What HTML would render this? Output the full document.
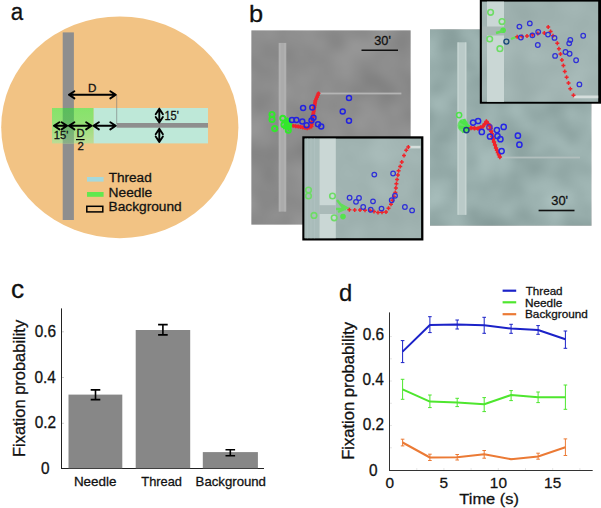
<!DOCTYPE html>
<html><head><meta charset="utf-8"><style>
html,body{margin:0;padding:0;background:#fff;width:601px;height:508px;overflow:hidden}
svg{display:block;font-family:"Liberation Sans", sans-serif}
text{stroke:#111;stroke-width:0.28px;paint-order:stroke}
</style></head><body>
<svg width="601" height="508" viewBox="0 0 601 508" font-family='"Liberation Sans", sans-serif'>
<text transform="translate(10.85,19.85) scale(0.9161,1)" font-size="24.44" fill="#111">a</text>
<ellipse cx="119.8" cy="127.3" rx="118.6" ry="110.9" fill="#F2C384"/>
<defs><linearGradient id="gG" x1="0" y1="0" x2="0" y2="1"><stop offset="0" stop-color="#86E36A"/><stop offset="0.35" stop-color="#8FE172"/><stop offset="1" stop-color="#BCDC96"/></linearGradient><linearGradient id="gO" x1="0" y1="0" x2="0" y2="1"><stop offset="0" stop-color="#5ABD5C"/><stop offset="0.35" stop-color="#62BA62"/><stop offset="1" stop-color="#8CAF88"/></linearGradient></defs>
<rect x="62.7" y="32.4" width="11.2" height="187.6" fill="#8E8E8E"/>
<rect x="52" y="108" width="41.7" height="35.4" fill="url(#gG)"/>
<rect x="62.7" y="108" width="11.2" height="35.4" fill="url(#gO)"/>
<rect x="93.7" y="108" width="114.3" height="35.4" fill="#BEE8D8"/>
<rect x="116.7" y="123" width="91.3" height="4.7" fill="#8E8E8E"/>
<line x1="116.7" y1="95" x2="116.7" y2="124" stroke="#777" stroke-width="0.6"/>
<path d="M68.9,94.8 L115.8,94.8 M74.4,91.2 L68.9,94.8 L74.4,98.39999999999999 M110.3,91.2 L115.8,94.8 L110.3,98.39999999999999" stroke="#000" stroke-width="1.9" fill="none" stroke-linecap="round" stroke-linejoin="round"/>
<text transform="translate(87.94,91.80) scale(1.0145,1)" font-size="11.48" fill="#111">D</text>
<path d="M53.9,125.8 L67.1,125.8 M59.4,122.2 L53.9,125.8 L59.4,129.4 M61.599999999999994,122.2 L67.1,125.8 L61.599999999999994,129.4" stroke="#000" stroke-width="1.9" fill="none" stroke-linecap="round" stroke-linejoin="round"/>
<path d="M68.9,125.8 L91.6,125.8 M74.4,122.2 L68.9,125.8 L74.4,129.4 M86.1,122.2 L91.6,125.8 L86.1,129.4" stroke="#000" stroke-width="1.9" fill="none" stroke-linecap="round" stroke-linejoin="round"/>
<path d="M93.4,125.8 L115.8,125.8 M98.9,122.2 L93.4,125.8 L98.9,129.4 M110.3,122.2 L115.8,125.8 L110.3,129.4" stroke="#000" stroke-width="1.9" fill="none" stroke-linecap="round" stroke-linejoin="round"/>
<text transform="translate(53.85,139.00) scale(1.0023,1)" font-size="11.19" fill="#111">15'</text>
<text transform="translate(76.49,137.30) scale(1.0502,1)" font-size="10.61" fill="#111">D</text>
<line x1="76" y1="139.6" x2="84.6" y2="139.6" stroke="#000" stroke-width="1.2"/>
<text transform="translate(77.53,149.90) scale(1.0089,1)" font-size="11.31" fill="#111">2</text>
<path d="M159.3,108.7 L159.3,122.5 M155.70000000000002,114.2 L159.3,108.7 L162.9,114.2 M155.70000000000002,117.0 L159.3,122.5 L162.9,117.0" stroke="#000" stroke-width="1.9" fill="none" stroke-linecap="round" stroke-linejoin="round"/>
<path d="M159.3,128.7 L159.3,142.1 M155.70000000000002,134.2 L159.3,128.7 L162.9,134.2 M155.70000000000002,136.6 L159.3,142.1 L162.9,136.6" stroke="#000" stroke-width="1.9" fill="none" stroke-linecap="round" stroke-linejoin="round"/>
<text transform="translate(164.41,119.75) scale(0.9213,1)" font-size="11.99" fill="#111">15'</text>
<rect x="87" y="177" width="16.6" height="4.6" fill="#A6D9DC"/>
<rect x="87" y="192" width="16.6" height="4.8" fill="#62E84E"/>
<rect x="86.8" y="206.3" width="16" height="5.6" fill="none" stroke="#000" stroke-width="1.5"/>
<text transform="translate(108.69,182.00) scale(1.0594,1)" font-size="12.83" fill="#111">Thread</text>
<text transform="translate(108.57,197.00) scale(1.0288,1)" font-size="13.39" fill="#111">Needle</text>
<text transform="translate(108.57,211.30) scale(1.0688,1)" font-size="12.83" fill="#111">Background</text>
<text transform="translate(248.97,22.45) scale(1.0526,1)" font-size="24.08" fill="#111">b</text>
<defs><filter id="bl" x="-50%" y="-50%" width="200%" height="200%"><feGaussianBlur stdDeviation="0.75"/></filter><filter id="bl2" x="-50%" y="-50%" width="200%" height="200%"><feGaussianBlur stdDeviation="0.4"/></filter><filter id="t1" x="0" y="0" width="1" height="1" color-interpolation-filters="sRGB"><feTurbulence type="fractalNoise" baseFrequency="0.028" numOctaves="2" seed="3" result="n"/><feColorMatrix in="n" type="matrix" values="1 0 0 0 0  1 0 0 0 0  1 0 0 0 0  0 0 0 0 1" result="g"/><feComposite in="SourceGraphic" in2="g" operator="arithmetic" k1="0" k2="1" k3="0.13" k4="-0.065"/></filter><filter id="t2" x="0" y="0" width="1" height="1" color-interpolation-filters="sRGB"><feTurbulence type="fractalNoise" baseFrequency="0.028" numOctaves="2" seed="7" result="n"/><feColorMatrix in="n" type="matrix" values="1 0 0 0 0  1 0 0 0 0  1 0 0 0 0  0 0 0 0 1" result="g"/><feComposite in="SourceGraphic" in2="g" operator="arithmetic" k1="0" k2="1" k3="0.2" k4="-0.1"/></filter><filter id="t3" x="0" y="0" width="1" height="1" color-interpolation-filters="sRGB"><feTurbulence type="fractalNoise" baseFrequency="0.03" numOctaves="2" seed="11" result="n"/><feColorMatrix in="n" type="matrix" values="1 0 0 0 0  1 0 0 0 0  1 0 0 0 0  0 0 0 0 1" result="g"/><feComposite in="SourceGraphic" in2="g" operator="arithmetic" k1="0" k2="1" k3="0.08" k4="-0.04"/></filter><filter id="t4" x="0" y="0" width="1" height="1" color-interpolation-filters="sRGB"><feTurbulence type="fractalNoise" baseFrequency="0.03" numOctaves="2" seed="19" result="n"/><feColorMatrix in="n" type="matrix" values="1 0 0 0 0  1 0 0 0 0  1 0 0 0 0  0 0 0 0 1" result="g"/><feComposite in="SourceGraphic" in2="g" operator="arithmetic" k1="0" k2="1" k3="0.08" k4="-0.04"/></filter></defs>
<rect x="251.5" y="30.5" width="159" height="194" fill="#8D8D8D" filter="url(#t1)"/>
<rect x="278.6" y="42.9" width="7.7" height="168.7" fill="#ABABAB"/><rect x="279.3" y="43" width="1.2" height="168.5" fill="#B4B4B4"/><rect x="284.4" y="43" width="1.2" height="168.5" fill="#B4B4B4"/>
<rect x="320" y="92.6" width="81.4" height="1.8" fill="#B5B5B5"/>
<rect x="361.5" y="49.5" width="36.5" height="1.5" fill="#111"/>
<text transform="translate(374.26,45.40) scale(0.9736,1)" font-size="13.10" fill="#111">30'</text>
<rect x="430" y="29.5" width="161.3" height="196" fill="#97ADAB" filter="url(#t2)"/>
<rect x="457.3" y="42.3" width="9.2" height="172.6" fill="#BACAC8"/><rect x="457.6" y="42.5" width="1.3" height="172.2" fill="#C6D4D2"/><rect x="464.9" y="42.5" width="1.3" height="172.2" fill="#C6D4D2"/>
<rect x="502.7" y="156.6" width="77.3" height="1.8" fill="#B2BFBD"/>
<rect x="538.6" y="209.7" width="35.9" height="1.6" fill="#111"/>
<text transform="translate(551.21,204.80) scale(0.9703,1)" font-size="13.32" fill="#111">30'</text>
<rect x="302.3" y="136.3" width="121.1" height="104.2" fill="#000"/>
<rect x="304.6" y="138.6" width="116.5" height="99.6" fill="#A0B3B1" filter="url(#t3)"/>
<rect x="319.3" y="138.6" width="16.5" height="99.6" fill="#CAD7D5"/>
<rect x="304.6" y="138.6" width="14.7" height="99.6" fill="#A9BCBA"/><path d="M307.5,138.6v99.6M311,138.6v99.6M314.5,138.6v99.6" stroke="#B0C2C0" stroke-width="0.8"/>
<rect x="319.3" y="205.2" width="16.5" height="8.8" fill="#AABAB8"/>
<rect x="409.9" y="145.8" width="10.5" height="2.6" fill="#D5DEDC"/>
<rect x="479.8" y="0" width="121.2" height="103.7" fill="#000"/>
<rect x="481.9" y="1.6" width="116.3" height="100.2" fill="#A0B3B1" filter="url(#t4)"/>
<rect x="487" y="1.6" width="17" height="100.2" fill="#CAD7D5"/>
<rect x="482.2" y="26.5" width="21.8" height="9" fill="#A9B8B6"/>
<rect x="573.6" y="95.5" width="24.6" height="2.8" fill="#D5DEDC"/>
<g filter="url(#bl2)">
<polyline points="293.1,125.8 300.7,126.9 307.2,128.3 311.5,126.4 313.1,115 315.3,101 318.5,93.4" fill="none" stroke="#F0242A" stroke-width="3.0" stroke-linejoin="round" stroke-linecap="round"/><path d="M291.1,125.8h4.0M293.1,123.8v4.0M293.6,126.2h4.0M295.6,124.2v4.0M296.2,126.5h4.0M298.2,124.5v4.0M298.7,126.9h4.0M300.7,124.9v4.0M300.9,127.4h4.0M302.9,125.4v4.0M303.0,127.8h4.0M305.0,125.8v4.0M305.2,128.3h4.0M307.2,126.3v4.0M307.4,127.4h4.0M309.4,125.4v4.0M309.5,126.4h4.0M311.5,124.4v4.0M309.8,124.1h4.0M311.8,122.1v4.0M310.1,121.8h4.0M312.1,119.8v4.0M310.5,119.6h4.0M312.5,117.6v4.0M310.8,117.3h4.0M312.8,115.3v4.0M311.1,115.0h4.0M313.1,113.0v4.0M311.4,113.0h4.0M313.4,111.0v4.0M311.7,111.0h4.0M313.7,109.0v4.0M312.0,109.0h4.0M314.0,107.0v4.0M312.4,107.0h4.0M314.4,105.0v4.0M312.7,105.0h4.0M314.7,103.0v4.0M313.0,103.0h4.0M315.0,101.0v4.0M313.3,101.0h4.0M315.3,99.0v4.0M314.1,99.1h4.0M316.1,97.1v4.0M314.9,97.2h4.0M316.9,95.2v4.0M315.7,95.3h4.0M317.7,93.3v4.0M316.5,93.4h4.0M318.5,91.4v4.0" stroke="#F0242A" stroke-width="1.4" fill="none"/>
<circle cx="272" cy="114.5" r="2.6" fill="none" stroke="#30E82C" stroke-width="1.9"/>
<circle cx="272" cy="119.4" r="2.6" fill="none" stroke="#30E82C" stroke-width="1.9"/>
<circle cx="274.7" cy="128.6" r="2.6" fill="none" stroke="#30E82C" stroke-width="1.9"/>
<circle cx="282.8" cy="118.3" r="2.6" fill="none" stroke="#30E82C" stroke-width="1.9"/>
<circle cx="284" cy="124.8" r="2.6" fill="none" stroke="#30E82C" stroke-width="1.9"/>
<circle cx="287.7" cy="121.5" r="2.6" fill="none" stroke="#30E82C" stroke-width="1.9"/>
<circle cx="288.3" cy="130.2" r="2.6" fill="none" stroke="#30E82C" stroke-width="1.9"/>
<path d="M282,121 L292,125 M283,128 L292,126 M286,118 L291,124 M284,124 L290,130" stroke="#30E82C" stroke-width="3.2"/>
<circle cx="349" cy="98" r="2.5" fill="none" stroke="#2323E0" stroke-width="1.5"/>
<circle cx="303.1" cy="108" r="2.5" fill="none" stroke="#2323E0" stroke-width="1.5"/>
<circle cx="312.3" cy="107.5" r="2.5" fill="none" stroke="#2323E0" stroke-width="1.5"/>
<circle cx="342.7" cy="111.6" r="2.5" fill="none" stroke="#2323E0" stroke-width="1.5"/>
<circle cx="349" cy="120.8" r="2.5" fill="none" stroke="#2323E0" stroke-width="1.5"/>
<circle cx="292" cy="119.9" r="2.5" fill="none" stroke="#2323E0" stroke-width="1.5"/>
<circle cx="296.4" cy="119.9" r="2.5" fill="none" stroke="#2323E0" stroke-width="1.5"/>
<circle cx="302.3" cy="121.5" r="2.5" fill="none" stroke="#2323E0" stroke-width="1.5"/>
<circle cx="313.5" cy="117.7" r="2.5" fill="none" stroke="#2323E0" stroke-width="1.5"/>
<circle cx="311.5" cy="120.4" r="2.5" fill="none" stroke="#2323E0" stroke-width="1.5"/>
<circle cx="306.6" cy="125.3" r="2.5" fill="none" stroke="#2323E0" stroke-width="1.5"/>
<circle cx="318" cy="124.2" r="2.5" fill="none" stroke="#2323E0" stroke-width="1.5"/>
<circle cx="321.2" cy="126.4" r="2.5" fill="none" stroke="#2323E0" stroke-width="1.5"/>
</g>
<g filter="url(#bl2)">
<circle cx="459.1" cy="115.1" r="2.6" fill="none" stroke="#4EE34A" stroke-width="1.5"/>
<ellipse cx="463" cy="125.5" rx="5.5" ry="6.5" fill="#4EE34A" opacity="0.75" filter="url(#bl)"/>
<path d="M460,121 L470,127 M459,127 L470,128 M462,132 L470,129 M464,119 L468,130" stroke="#4EE34A" stroke-width="2.8"/>
<polyline points="471,128 478,128.5 483,126.5 486.4,121.5 490,126 493,139 496,148 499.8,157" fill="none" stroke="#F0242A" stroke-width="3.0" stroke-linejoin="round" stroke-linecap="round"/><path d="M468.8,128.0h4.4M471.0,125.8v4.4M472.3,128.2h4.4M474.5,126.0v4.4M475.8,128.5h4.4M478.0,126.3v4.4M478.3,127.5h4.4M480.5,125.3v4.4M480.8,126.5h4.4M483.0,124.3v4.4M482.5,124.0h4.4M484.7,121.8v4.4M484.2,121.5h4.4M486.4,119.3v4.4M486.0,123.8h4.4M488.2,121.5v4.4M487.8,126.0h4.4M490.0,123.8v4.4M488.4,128.6h4.4M490.6,126.4v4.4M489.0,131.2h4.4M491.2,129.0v4.4M489.6,133.8h4.4M491.8,131.6v4.4M490.2,136.4h4.4M492.4,134.2v4.4M490.8,139.0h4.4M493.0,136.8v4.4M491.8,142.0h4.4M494.0,139.8v4.4M492.8,145.0h4.4M495.0,142.8v4.4M493.8,148.0h4.4M496.0,145.8v4.4M494.8,150.2h4.4M496.9,148.1v4.4M495.7,152.5h4.4M497.9,150.3v4.4M496.7,154.8h4.4M498.9,152.6v4.4M497.6,157.0h4.4M499.8,154.8v4.4" stroke="#F0242A" stroke-width="1.5" fill="none"/>
<circle cx="473.1" cy="122.6" r="2.6" fill="none" stroke="#2626E6" stroke-width="1.5"/>
<circle cx="478.1" cy="121" r="2.6" fill="none" stroke="#2626E6" stroke-width="1.5"/>
<circle cx="466.4" cy="130.1" r="2.6" fill="none" stroke="#1A3A8A" stroke-width="1.5"/>
<circle cx="481.8" cy="131.9" r="2.6" fill="none" stroke="#2626E6" stroke-width="1.5"/>
<circle cx="490" cy="136.5" r="2.6" fill="none" stroke="#2626E6" stroke-width="1.5"/>
<circle cx="489.4" cy="127.2" r="2.6" fill="none" stroke="#6A2AAA" stroke-width="1.5"/>
<circle cx="496.9" cy="130.1" r="2.6" fill="none" stroke="#2626E6" stroke-width="1.5"/>
<circle cx="503.7" cy="126.9" r="2.6" fill="none" stroke="#2626E6" stroke-width="1.5"/>
<circle cx="500.4" cy="139.2" r="2.6" fill="none" stroke="#2626E6" stroke-width="1.5"/>
<circle cx="497.5" cy="136" r="2.6" fill="none" stroke="#2626E6" stroke-width="1.5"/>
<circle cx="501.6" cy="151.1" r="2.6" fill="none" stroke="#2626E6" stroke-width="1.5"/>
<circle cx="517.9" cy="135.7" r="2.6" fill="none" stroke="#2626E6" stroke-width="1.5"/>
<circle cx="519.4" cy="144.7" r="2.6" fill="none" stroke="#2626E6" stroke-width="1.5"/>
</g>
<g filter="url(#bl)" opacity="1">
<circle cx="308.5" cy="190" r="2.8" fill="none" stroke="#6EDC66" stroke-width="1.6"/>
<circle cx="308.5" cy="196" r="2.8" fill="none" stroke="#6EDC66" stroke-width="1.6"/>
<circle cx="332.5" cy="196" r="2.8" fill="none" stroke="#6EDC66" stroke-width="1.6"/>
<circle cx="314" cy="215.4" r="2.8" fill="none" stroke="#6EDC66" stroke-width="1.6"/>
<circle cx="334.2" cy="217.8" r="2.8" fill="none" stroke="#6EDC66" stroke-width="1.6"/>
<circle cx="343" cy="216.6" r="2.8" fill="#55E24E"/>
<path d="M337,200 L344,209 M340,204 L349,209 M338,212 L345,209 M336,209 L346,209" stroke="#62DE58" stroke-width="2.4"/>
</g>
<path d="M347.4,209.8h4.0M349.4,207.8v4.0M352.7,209.9h4.0M354.7,207.9v4.0M358.0,210.0h4.0M360.0,208.0v4.0M363.0,210.2h4.0M365.0,208.2v4.0M368.0,210.5h4.0M370.0,208.5v4.0M372.0,211.5h4.0M374.0,209.5v4.0M376.0,212.5h4.0M378.0,210.5v4.0M380.0,212.2h4.0M382.0,210.2v4.0M384.0,212.0h4.0M386.0,210.0v4.0M386.5,208.2h4.0M388.5,206.2v4.0M389.0,204.3h4.0M391.0,202.3v4.0M390.4,200.3h4.0M392.4,198.3v4.0M391.9,196.4h4.0M393.9,194.4v4.0M393.3,192.4h4.0M395.3,190.4v4.0M393.9,188.1h4.0M395.9,186.1v4.0M394.4,183.8h4.0M396.4,181.8v4.0M395.1,179.5h4.0M397.1,177.5v4.0M395.9,175.1h4.0M397.9,173.1v4.0M396.6,170.8h4.0M398.6,168.8v4.0M398.2,166.4h4.0M400.2,164.4v4.0M399.8,162.0h4.0M401.8,160.0v4.0M402.0,155.6h4.0M404.0,153.6v4.0M404.2,150.2h4.0M406.2,148.2v4.0M406.3,147.0h4.0M408.3,145.0v4.0" stroke="#F0242A" stroke-width="1.5" fill="none"/>
<circle cx="374.3" cy="174.6" r="2.3" fill="none" stroke="#2F2FD8" stroke-width="1.25"/>
<circle cx="393.1" cy="173.5" r="2.3" fill="none" stroke="#2F2FD8" stroke-width="1.25"/>
<circle cx="349.6" cy="197.7" r="2.3" fill="none" stroke="#2F2FD8" stroke-width="1.25"/>
<circle cx="359" cy="198" r="2.3" fill="none" stroke="#2F2FD8" stroke-width="1.25"/>
<circle cx="356" cy="201.8" r="2.3" fill="none" stroke="#2F2FD8" stroke-width="1.25"/>
<circle cx="373" cy="201.3" r="2.3" fill="none" stroke="#2F2FD8" stroke-width="1.25"/>
<circle cx="363.2" cy="207" r="2.3" fill="none" stroke="#2F2FD8" stroke-width="1.25"/>
<circle cx="381.5" cy="208.6" r="2.3" fill="none" stroke="#2F2FD8" stroke-width="1.25"/>
<circle cx="395" cy="195.7" r="2.3" fill="none" stroke="#2F2FD8" stroke-width="1.25"/>
<circle cx="391.7" cy="200.2" r="2.3" fill="none" stroke="#2F2FD8" stroke-width="1.25"/>
<circle cx="404.9" cy="207" r="2.3" fill="none" stroke="#2F2FD8" stroke-width="1.25"/>
<circle cx="412.1" cy="210.4" r="2.3" fill="none" stroke="#2F2FD8" stroke-width="1.25"/>
<circle cx="370.7" cy="209.7" r="2.3" fill="none" stroke="#2F2FD8" stroke-width="1.25"/>
<g filter="url(#bl)" opacity="1">
<circle cx="490.6" cy="12.3" r="2.8" fill="none" stroke="#6EDC66" stroke-width="1.6"/>
<circle cx="502" cy="21.6" r="2.8" fill="none" stroke="#6EDC66" stroke-width="1.6"/>
<circle cx="489.7" cy="39" r="2.8" fill="none" stroke="#6EDC66" stroke-width="1.6"/>
<circle cx="499.9" cy="48.7" r="2.8" fill="none" stroke="#6EDC66" stroke-width="1.6"/>
<circle cx="503.1" cy="30.3" r="2.8" fill="#55E24E"/>
<path d="M496,33 L503,31 M511,39 L516,37" stroke="#62DE58" stroke-width="2.4"/>
</g>
<circle cx="506.4" cy="41.6" r="2.5" fill="none" stroke="#1A4A7A" stroke-width="1.4"/>
<path d="M515.2,36.8h4.0M517.2,34.8v4.0M520.1,36.4h4.0M522.1,34.4v4.0M525.0,36.0h4.0M527.0,34.0v4.0M530.4,34.8h4.0M532.4,32.8v4.0M535.8,33.6h4.0M537.8,31.6v4.0M542.3,32.9h4.0M544.3,30.9v4.0M546.2,27.0h4.0M548.2,25.0v4.0M548.6,31.4h4.0M550.6,29.4v4.0M551.0,35.7h4.0M553.0,33.7v4.0M555.3,43.3h4.0M557.3,41.3v4.0M556.9,48.7h4.0M558.9,46.7v4.0M558.5,54.1h4.0M560.5,52.1v4.0M559.9,59.9h4.0M561.9,57.9v4.0M561.4,65.6h4.0M563.4,63.6v4.0M562.8,71.4h4.0M564.8,69.4v4.0M564.6,77.2h4.0M566.6,75.2v4.0M566.5,83.0h4.0M568.5,81.0v4.0M568.3,88.8h4.0M570.3,86.8v4.0M571.5,95.3h4.0M573.5,93.3v4.0" stroke="#F0242A" stroke-width="1.5" fill="none"/>
<circle cx="519.4" cy="26.6" r="2.3" fill="none" stroke="#2F2FD8" stroke-width="1.25"/>
<circle cx="529.8" cy="23.4" r="2.3" fill="none" stroke="#2F2FD8" stroke-width="1.25"/>
<circle cx="538.2" cy="31.8" r="2.3" fill="none" stroke="#2F2FD8" stroke-width="1.25"/>
<circle cx="520.9" cy="37.5" r="2.3" fill="none" stroke="#2F2FD8" stroke-width="1.25"/>
<circle cx="532.4" cy="35.3" r="2.3" fill="none" stroke="#2F2FD8" stroke-width="1.25"/>
<circle cx="537.8" cy="45" r="2.3" fill="none" stroke="#2F2FD8" stroke-width="1.25"/>
<circle cx="548" cy="34.6" r="2.3" fill="none" stroke="#2F2FD8" stroke-width="1.25"/>
<circle cx="554.5" cy="37.9" r="2.3" fill="none" stroke="#2F2FD8" stroke-width="1.25"/>
<circle cx="570.3" cy="40" r="2.3" fill="none" stroke="#2F2FD8" stroke-width="1.25"/>
<circle cx="569.2" cy="43.3" r="2.3" fill="none" stroke="#2F2FD8" stroke-width="1.25"/>
<circle cx="583.2" cy="35.7" r="2.3" fill="none" stroke="#2F2FD8" stroke-width="1.25"/>
<circle cx="565.5" cy="52" r="2.3" fill="none" stroke="#2F2FD8" stroke-width="1.25"/>
<circle cx="569.6" cy="53.7" r="2.3" fill="none" stroke="#2F2FD8" stroke-width="1.25"/>
<circle cx="555.1" cy="55.9" r="2.3" fill="none" stroke="#2F2FD8" stroke-width="1.25"/>
<circle cx="576.1" cy="60.2" r="2.3" fill="none" stroke="#2F2FD8" stroke-width="1.25"/>
<circle cx="579.4" cy="84.4" r="2.3" fill="none" stroke="#2F2FD8" stroke-width="1.25"/>
<text transform="translate(10.89,298.45) scale(1.0485,1)" font-size="25.00" fill="#111">c</text>
<line x1="61.5" y1="308.4" x2="61.5" y2="469" stroke="#222" stroke-width="1"/>
<line x1="62" y1="331.8" x2="64" y2="331.8" stroke="#ccc" stroke-width="1"/>
<line x1="62" y1="377.5" x2="64" y2="377.5" stroke="#ccc" stroke-width="1"/>
<line x1="62" y1="423.3" x2="64" y2="423.3" stroke="#ccc" stroke-width="1"/>
<line x1="61" y1="468.5" x2="264" y2="468.5" stroke="#222" stroke-width="1"/>
<text transform="translate(41.02,473.90) scale(1,1.0200)" font-size="15.40" fill="#111">0</text>
<text transform="translate(34.68,428.20) scale(1,1.0200)" font-size="15.40" fill="#111">0.2</text>
<text transform="translate(34.52,382.60) scale(1,1.0200)" font-size="15.40" fill="#111">0.4</text>
<text transform="translate(34.63,336.90) scale(1,1.0200)" font-size="15.40" fill="#111">0.6</text>
<rect x="68.5" y="394.6" width="53.8" height="73.7" fill="#878787"/>
<path d="M95.5,389.9 L95.5,399.6 M90.7,389.9 L100.3,389.9 M90.7,399.6 L100.3,399.6" stroke="#000" stroke-width="1.6" fill="none"/>
<rect x="135.7" y="330" width="54.5" height="138.3" fill="#878787"/>
<path d="M162.9,324.6 L162.9,334.9 M158.1,324.6 L167.70000000000002,324.6 M158.1,334.9 L167.70000000000002,334.9" stroke="#000" stroke-width="1.6" fill="none"/>
<rect x="202.8" y="452.1" width="55.1" height="16.2" fill="#878787"/>
<path d="M230.3,449.8 L230.3,455.7 M225.5,449.8 L235.10000000000002,449.8 M225.5,455.7 L235.10000000000002,455.7" stroke="#000" stroke-width="1.6" fill="none"/>
<text transform="translate(73.90,485.90) scale(1.0363,1)" font-size="12.97" fill="#111">Needle</text>
<text transform="translate(141.31,485.80) scale(0.9802,1)" font-size="13.11" fill="#111">Thread</text>
<text transform="translate(195.62,485.60) scale(1.0625,1)" font-size="12.42" fill="#111">Background</text>
<text transform="translate(24.80,457.05) rotate(-90) scale(1.0198,1)" font-size="16.15" fill="#111">Fixation probability</text>
<text transform="translate(339.00,300.65) scale(0.9713,1)" font-size="24.50" fill="#111">d</text>
<line x1="389.5" y1="312.4" x2="389.5" y2="471" stroke="#333" stroke-width="1"/>
<line x1="390" y1="447.8" x2="392" y2="447.8" stroke="#e6e6e6" stroke-width="1"/>
<line x1="390" y1="425.5" x2="392" y2="425.5" stroke="#e6e6e6" stroke-width="1"/>
<line x1="390" y1="403.3" x2="392" y2="403.3" stroke="#e6e6e6" stroke-width="1"/>
<line x1="390" y1="381" x2="392" y2="381" stroke="#e6e6e6" stroke-width="1"/>
<line x1="390" y1="358.8" x2="392" y2="358.8" stroke="#e6e6e6" stroke-width="1"/>
<line x1="390" y1="336.5" x2="392" y2="336.5" stroke="#e6e6e6" stroke-width="1"/>
<line x1="416.8" y1="468" x2="416.8" y2="470" stroke="#e6e6e6" stroke-width="1"/>
<line x1="443.9" y1="468" x2="443.9" y2="470" stroke="#e6e6e6" stroke-width="1"/>
<line x1="471.1" y1="468" x2="471.1" y2="470" stroke="#e6e6e6" stroke-width="1"/>
<line x1="498.3" y1="468" x2="498.3" y2="470" stroke="#e6e6e6" stroke-width="1"/>
<line x1="525.5" y1="468" x2="525.5" y2="470" stroke="#e6e6e6" stroke-width="1"/>
<line x1="552.7" y1="468" x2="552.7" y2="470" stroke="#e6e6e6" stroke-width="1"/>
<line x1="579.9" y1="468" x2="579.9" y2="470" stroke="#e6e6e6" stroke-width="1"/>
<line x1="389" y1="470.5" x2="592.7" y2="470.5" stroke="#333" stroke-width="1"/>
<text transform="translate(369.02,475.70) scale(1,1.0200)" font-size="15.40" fill="#111">0</text>
<text transform="translate(362.68,430.40) scale(1,1.0200)" font-size="15.40" fill="#111">0.2</text>
<text transform="translate(362.52,385.10) scale(1,1.0200)" font-size="15.40" fill="#111">0.4</text>
<text transform="translate(362.63,339.85) scale(1,1.0200)" font-size="15.40" fill="#111">0.6</text>
<text transform="translate(385.42,487.60) scale(1,1.0000)" font-size="15.40" fill="#111">0</text>
<text transform="translate(439.38,487.60) scale(1,1.0000)" font-size="15.40" fill="#111">5</text>
<text transform="translate(489.85,487.60) scale(1,1.0000)" font-size="15.40" fill="#111">10</text>
<text transform="translate(544.07,487.60) scale(1,1.0000)" font-size="15.40" fill="#111">15</text>
<text transform="translate(459.33,503.60) scale(1.0622,1)" font-size="15.46" fill="#111">Time (s)</text>
<text transform="translate(353.70,459.76) rotate(-90) scale(1.0613,1)" font-size="15.59" fill="#111">Fixation probability</text>
<polyline points="402.6,351.6 429.9,325 457.2,324.6 484.2,325.3 511.1,328.6 538.1,330 565.4,339.3" fill="none" stroke="#1B22C8" stroke-width="2.0" stroke-linejoin="round"/>
<path d="M402.6,340.6 L402.6,362.6 M400.8,340.6 L404.40000000000003,340.6 M400.8,362.6 L404.40000000000003,362.6" stroke="#1B22C8" stroke-width="1.0" fill="none"/>
<path d="M429.9,316.7 L429.9,332.6 M428.09999999999997,316.7 L431.7,316.7 M428.09999999999997,332.6 L431.7,332.6" stroke="#1B22C8" stroke-width="1.0" fill="none"/>
<path d="M457.2,320 L457.2,329 M455.4,320 L459.0,320 M455.4,329 L459.0,329" stroke="#1B22C8" stroke-width="1.0" fill="none"/>
<path d="M484.2,317.3 L484.2,333.3 M482.4,317.3 L486.0,317.3 M482.4,333.3 L486.0,333.3" stroke="#1B22C8" stroke-width="1.0" fill="none"/>
<path d="M511.1,324.3 L511.1,333.3 M509.3,324.3 L512.9,324.3 M509.3,333.3 L512.9,333.3" stroke="#1B22C8" stroke-width="1.0" fill="none"/>
<path d="M538.1,325.6 L538.1,334.3 M536.3000000000001,325.6 L539.9,325.6 M536.3000000000001,334.3 L539.9,334.3" stroke="#1B22C8" stroke-width="1.0" fill="none"/>
<path d="M565.4,331 L565.4,348.3 M563.6,331 L567.1999999999999,331 M563.6,348.3 L567.1999999999999,348.3" stroke="#1B22C8" stroke-width="1.0" fill="none"/>
<polyline points="402.6,389.3 429.9,401.6 457.2,402.6 484.2,404.3 511.1,395 538.1,397.3 565.4,397.3" fill="none" stroke="#4EE62E" stroke-width="2.0" stroke-linejoin="round"/>
<path d="M402.6,379.3 L402.6,399.3 M400.8,379.3 L404.40000000000003,379.3 M400.8,399.3 L404.40000000000003,399.3" stroke="#4EE62E" stroke-width="1.0" fill="none"/>
<path d="M429.9,395 L429.9,407.6 M428.09999999999997,395 L431.7,395 M428.09999999999997,407.6 L431.7,407.6" stroke="#4EE62E" stroke-width="1.0" fill="none"/>
<path d="M457.2,398.3 L457.2,406.6 M455.4,398.3 L459.0,398.3 M455.4,406.6 L459.0,406.6" stroke="#4EE62E" stroke-width="1.0" fill="none"/>
<path d="M484.2,397.6 L484.2,411.6 M482.4,397.6 L486.0,397.6 M482.4,411.6 L486.0,411.6" stroke="#4EE62E" stroke-width="1.0" fill="none"/>
<path d="M511.1,390.6 L511.1,400.6 M509.3,390.6 L512.9,390.6 M509.3,400.6 L512.9,400.6" stroke="#4EE62E" stroke-width="1.0" fill="none"/>
<path d="M538.1,392 L538.1,402.6 M536.3000000000001,392 L539.9,392 M536.3000000000001,402.6 L539.9,402.6" stroke="#4EE62E" stroke-width="1.0" fill="none"/>
<path d="M565.4,385 L565.4,409.3 M563.6,385 L567.1999999999999,385 M563.6,409.3 L567.1999999999999,409.3" stroke="#4EE62E" stroke-width="1.0" fill="none"/>
<polyline points="402.6,442.5 429.9,457.5 457.2,457.2 484.2,454.2 511.1,459.2 538.1,456.5 565.4,447.2" fill="none" stroke="#EB7A35" stroke-width="2.0" stroke-linejoin="round"/>
<path d="M402.6,439.2 L402.6,445.9 M400.8,439.2 L404.40000000000003,439.2 M400.8,445.9 L404.40000000000003,445.9" stroke="#EB7A35" stroke-width="1.0" fill="none"/>
<path d="M429.9,454.2 L429.9,460.5 M428.09999999999997,454.2 L431.7,454.2 M428.09999999999997,460.5 L431.7,460.5" stroke="#EB7A35" stroke-width="1.0" fill="none"/>
<path d="M457.2,454.5 L457.2,460 M455.4,454.5 L459.0,454.5 M455.4,460 L459.0,460" stroke="#EB7A35" stroke-width="1.0" fill="none"/>
<path d="M484.2,450.5 L484.2,458.2 M482.4,450.5 L486.0,450.5 M482.4,458.2 L486.0,458.2" stroke="#EB7A35" stroke-width="1.0" fill="none"/>
<path d="M511.1,459.2 L511.1,459.2 M509.3,459.2 L512.9,459.2 M509.3,459.2 L512.9,459.2" stroke="#EB7A35" stroke-width="1.0" fill="none"/>
<path d="M538.1,453.2 L538.1,459.2 M536.3000000000001,453.2 L539.9,453.2 M536.3000000000001,459.2 L539.9,459.2" stroke="#EB7A35" stroke-width="1.0" fill="none"/>
<path d="M565.4,438.9 L565.4,455.5 M563.6,438.9 L567.1999999999999,438.9 M563.6,455.5 L567.1999999999999,455.5" stroke="#EB7A35" stroke-width="1.0" fill="none"/>
<line x1="502.6" y1="290.7" x2="516.2" y2="290.7" stroke="#1B22C8" stroke-width="2.2"/>
<text transform="translate(525.74,294.60) scale(1.0552,1)" font-size="11.04" fill="#111">Thread</text>
<line x1="502.6" y1="302.3" x2="516.2" y2="302.3" stroke="#4EE62E" stroke-width="2.2"/>
<text transform="translate(525.03,306.60) scale(1.0962,1)" font-size="10.76" fill="#111">Needle</text>
<line x1="502.6" y1="314.2" x2="516.2" y2="314.2" stroke="#EB7A35" stroke-width="2.2"/>
<text transform="translate(525.03,317.90) scale(1.1078,1)" font-size="10.63" fill="#111">Background</text>
</svg>
</body></html>
